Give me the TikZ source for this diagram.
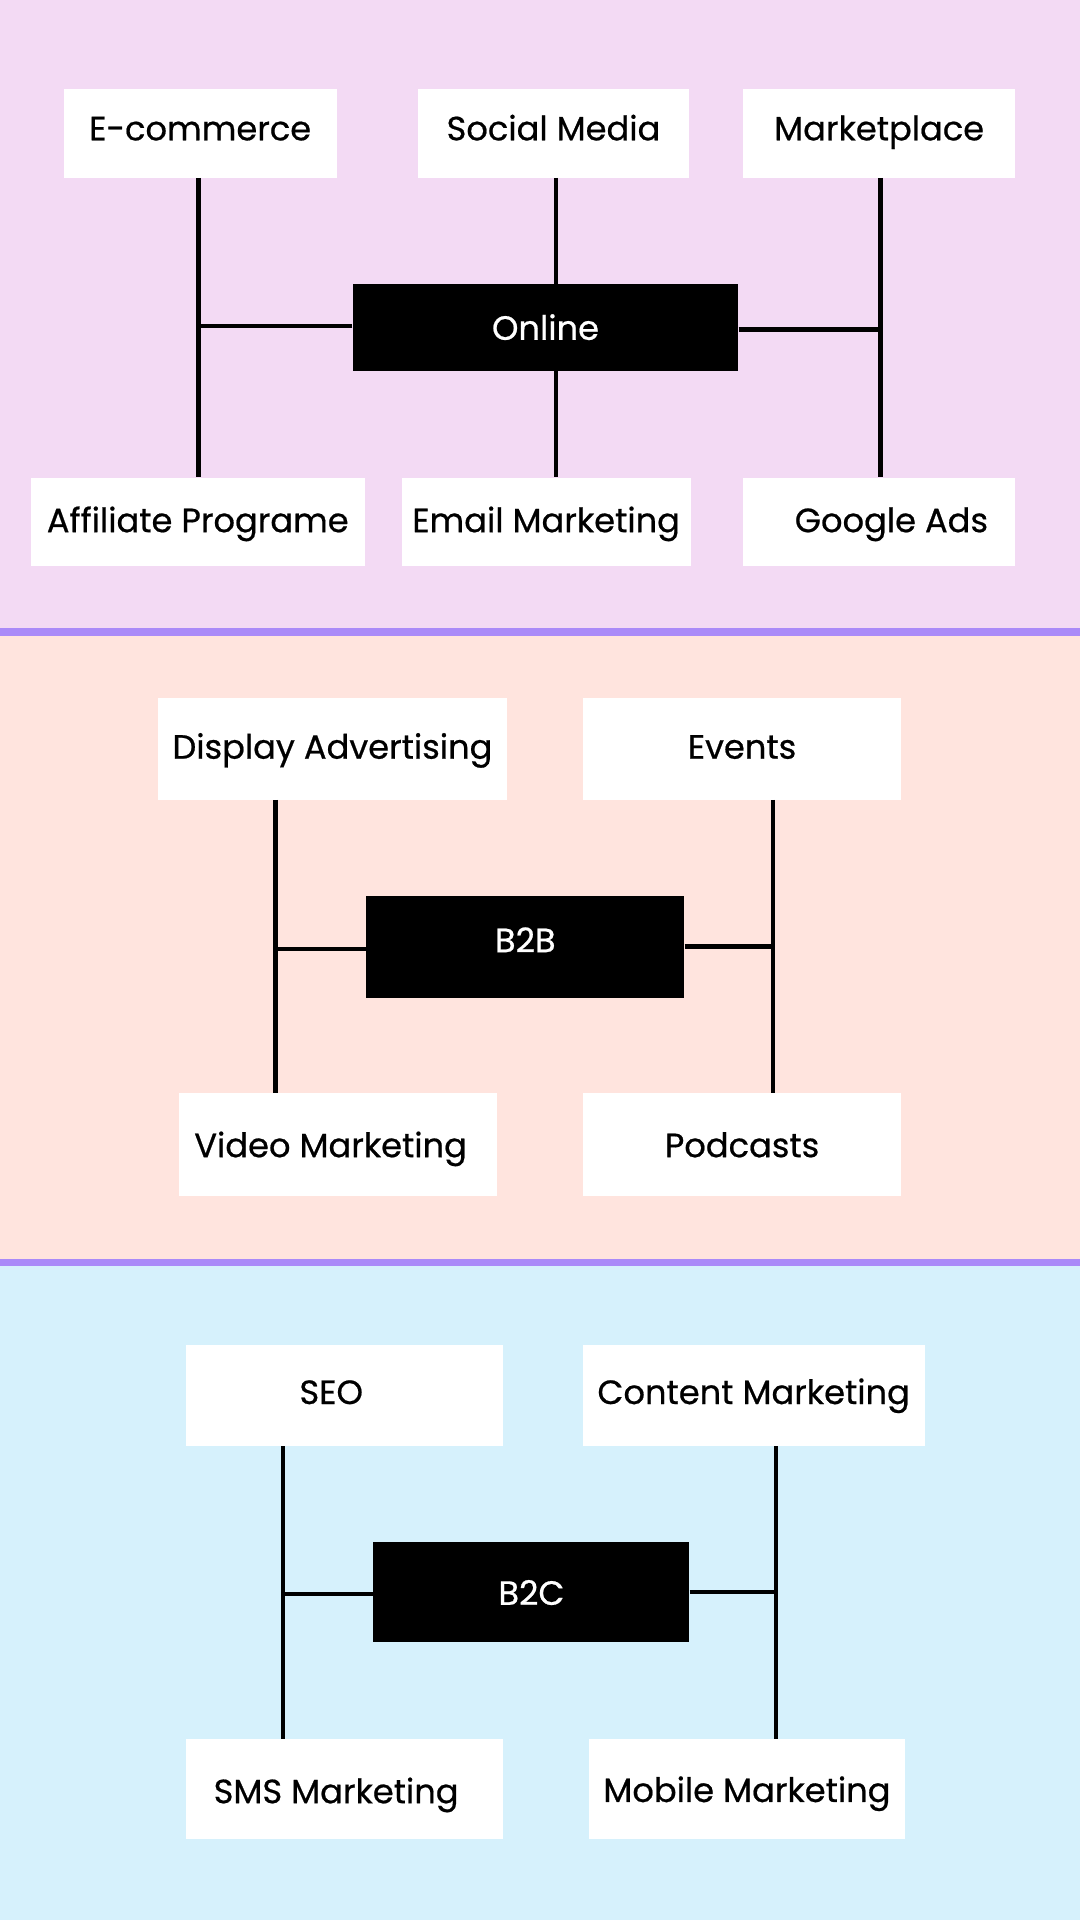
\documentclass[tikz,border=0pt]{standalone}
\usepackage{fontspec}
\setmainfont{Poppins}[FakeBold=0.6]
\definecolor{bandpink}{RGB}{243,218,244}
\definecolor{bandpeach}{RGB}{255,228,222}
\definecolor{bandblue}{RGB}{214,241,252}
\definecolor{sep}{RGB}{170,138,248}
\begin{document}
\begin{tikzpicture}[x=1pt,y=-1pt,
  txt/.style={inner sep=0pt,text height=20pt,text depth=0pt,font=\fontsize{27.5}{32}\selectfont},
  tup/.style={text depth=#1pt},
  tdn/.style={text height=#1pt},
  box/.style={txt,fill=white},
  hub/.style={txt,fill=black,text=white},
  link/.style={line width=3.5pt,black}]
\useasboundingbox (0,0) rectangle (882,1568);
% bands
\fill[bandpink] (0,0) rectangle (882,513);
\fill[sep] (0,513) rectangle (882,519);
\fill[bandpeach] (0,519) rectangle (882,1028);
\fill[sep] (0,1028) rectangle (882,1034);
\fill[bandblue] (0,1034) rectangle (882,1568);

% ---------- Online ----------
\node[box,tup=8.8,minimum width=223pt,minimum height=72pt] (ecom) at (163.5,109) {E-commerce};
\node[box,tup=8.8,minimum width=222pt,minimum height=72pt] (social) at (452,109) {Social Media};
\node[box,tup=8.8,minimum width=222pt,minimum height=72pt] (market) at (718,109) {Marketplace};
\node[box,tup=2.8,minimum width=273pt,minimum height=72pt] (aff) at (161.5,426) {Affiliate Programe};
\node[box,tup=2.8,minimum width=236pt,minimum height=72pt] (email) at (446,426) {Email Marketing};
\node[box,tup=2.8,minimum width=222pt,minimum height=72pt] (gads) at (718,426) {\hspace*{20pt}Google Ads};
\node[hub,minimum width=315pt,minimum height=71pt] (online) at (445.5,267.5) {Online};
\coordinate (l1) at (162,0);
\coordinate (m1) at (454,0);
\coordinate (r1) at (719,0);
\draw[link] (l1 |- ecom.south) -- (l1 |- aff.north);
\draw[link] (online.west) ++(0,-1.5) -- ++(-126,0);
\draw[link] (m1 |- social.south) -- (m1 |- online.north);
\draw[link] (m1 |- online.south) -- (m1 |- email.north);
\draw[link] (r1 |- market.south) -- (r1 |- gads.north);
\draw[link] (online.east) ++(0,1.5) -- ++(116,0);

% ---------- B2B ----------
\node[box,tup=3.8,minimum width=285pt,minimum height=83pt] (disp) at (271.5,611.5) {Display Advertising};
\node[box,tup=3.8,minimum width=260pt,minimum height=83pt] (events) at (606,611.5) {Events};
\node[hub,tup=11.8,minimum width=260pt,minimum height=83pt] (b2b) at (429,773.5) {B2B};
\node[box,minimum width=260pt,minimum height=84pt] (video) at (276,935) {Video Marketing\hspace*{12pt}};
\node[box,minimum width=260pt,minimum height=84pt] (pod) at (606,935) {Podcasts};
\coordinate (l2) at (225,775);
\coordinate (r2) at (631,773);
\draw[link] (l2 |- disp.south) -- (l2 |- video.north);
\draw[link] (b2b.west |- l2) -- (l2);
\draw[link] (r2 |- events.south) -- (r2 |- pod.north);
\draw[link] (b2b.east |- r2) -- (r2);

% ---------- B2C ----------
\node[box,tup=5.8,minimum width=259pt,minimum height=83pt] (seo) at (281.5,1139.5) {SEO\hspace*{22pt}};
\node[box,tup=5.8,minimum width=279pt,minimum height=83pt] (content) at (615.5,1139.5) {Content Marketing};
\node[hub,tdn=21.2,minimum width=258pt,minimum height=82pt] (b2c) at (434,1300) {B2C};
\node[box,tdn=23.2,minimum width=259pt,minimum height=82pt] (sms) at (281.5,1461) {SMS Marketing\hspace*{14pt}};
\node[box,tdn=21.2,minimum width=258pt,minimum height=82pt] (mobile) at (610,1461) {Mobile Marketing};
\coordinate (l3) at (231,1302);
\coordinate (r3) at (634,1300);
\draw[link] (l3 |- seo.south) -- (l3 |- sms.north);
\draw[link] (b2c.west |- l3) -- (l3);
\draw[link] (r3 |- content.south) -- (r3 |- mobile.north);
\draw[link] (b2c.east |- r3) -- (r3);
\end{tikzpicture}
\end{document}
